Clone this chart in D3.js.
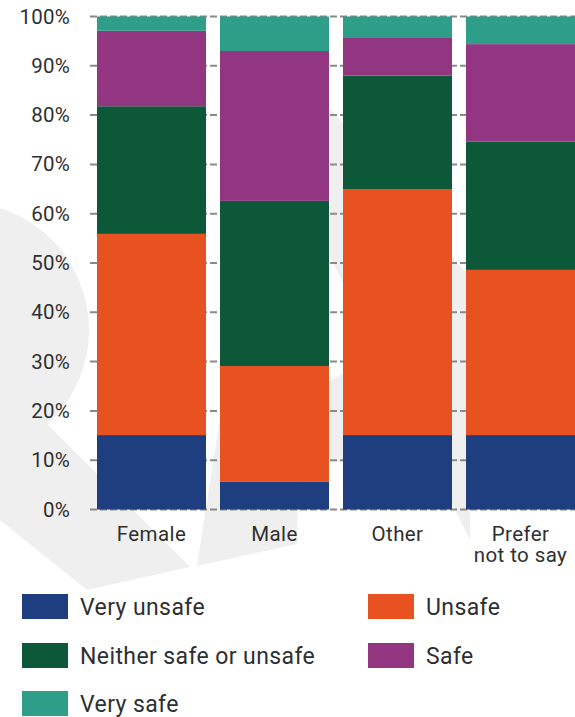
<!DOCTYPE html>
<html>
<head>
<meta charset="utf-8">
<script src="https://cdn.jsdelivr.net/npm/d3@7"></script>
<style>
  html, body { margin: 0; padding: 0; background: #fff; }
  svg { display: block; font-family: Roboto, "Noto Sans", sans-serif; }
</style>
</head>
<body>
<svg id="chart" width="575" height="717"></svg>
<script>
// Perceived safety by gender, share of respondents (%)
const categories = ["Female", "Male", "Other", "Prefer not to say"];
const categoryLabels = [["Female"], ["Male"], ["Other"], ["Prefer", "not to say"]];
const seriesNames = ["Very unsafe", "Unsafe", "Neither safe or unsafe", "Safe", "Very safe"];
const seriesColors = ["#1e3e80", "#e85220", "#0c5838", "#923682", "#2e9e88"];

const veryUnsafe = [15.1, 5.6, 15.1, 15.1];
const unsafe     = [40.8, 23.5, 49.9, 33.5];
const neither    = [25.9, 33.5, 23.0, 26.0];
const safe       = [15.3, 30.4, 7.8, 19.8];
const verySafe   = [2.9, 7.0, 4.2, 5.6];

const yTicks = [0, 10, 20, 30, 40, 50, 60, 70, 80, 90, 100];
const yTickLabels = ["0%", "10%", "20%", "30%", "40%", "50%", "60%", "70%", "80%", "90%", "100%"];

const seriesValues = [veryUnsafe, unsafe, neither, safe, verySafe];
const rows = categories.map((c, i) => {
  const r = { category: c };
  seriesNames.forEach((s, k) => { r[s] = seriesValues[k][i]; });
  return r;
});

const svg = d3.select("#chart");
const W = 575;

const x = d3.scaleBand()
  .domain(categories)
  .range([90, 582])
  .paddingInner(14 / 123)
  .paddingOuter(7 / 123);

const y = d3.scaleLinear().domain([0, 100]).range([509.5, 16.5]);

// Light background emblem
const mark = svg.append("g").attr("fill", "#efefef");
mark.append("circle").attr("cx", -39).attr("cy", 330).attr("r", 128);
const bgShapes = [
  [[-60, 317], [190, 567], [87, 590], [-60, 472]],
  [[197, 566], [297, 544], [300, 380], [226, 380], [218, 430]],
  [[330, 108], [470, 278], [470, 540], [330, 257]],
  [[326, 383], [346, 372], [346, 462], [326, 462]]
];
mark.selectAll("path.bg").data(bgShapes).join("path")
  .attr("class", "bg")
  .attr("d", d => d3.line()(d) + "Z");

// Dashed gridlines
svg.append("g").selectAll("line").data(yTicks).join("line")
  .attr("x1", 90).attr("x2", W)
  .attr("y1", d => y(d)).attr("y2", d => y(d))
  .attr("stroke", "#8a8a8a")
  .attr("stroke-width", 2)
  .attr("stroke-dasharray", "7,3");

// Stacked bars
const stacked = d3.stack().keys(seriesNames)(rows);
svg.append("g").selectAll("g").data(stacked).join("g")
  .attr("fill", (d, i) => seriesColors[i])
  .selectAll("rect").data(d => d).join("rect")
  .attr("x", d => x(d.data.category))
  .attr("width", x.bandwidth())
  .attr("y", d => y(d[1]))
  .attr("height", d => y(d[0]) - y(d[1]));

// Y axis labels
const yAxis = d3.axisLeft(y)
  .tickValues(yTicks)
  .tickFormat((d, i) => yTickLabels[i])
  .tickSize(0)
  .tickPadding(21);
const ya = svg.append("g").attr("transform", "translate(91,0)").call(yAxis);
ya.select(".domain").remove();
ya.selectAll("text")
  .attr("font-family", "Roboto, sans-serif")
  .attr("font-size", 20.5)
  .attr("letter-spacing", 0.2)
  .attr("fill", "#2f2f2f");

// Category labels
const xl = svg.append("g")
  .attr("font-size", 20.5)
  .attr("letter-spacing", 0.4)
  .attr("fill", "#2f2f2f")
  .attr("text-anchor", "middle");
categories.forEach((c, i) => {
  const t = xl.append("text")
    .attr("x", x(c) + x.bandwidth() / 2)
    .attr("y", 540.5);
  categoryLabels[i].forEach((line, j) => {
    t.append("tspan")
      .attr("x", x(c) + x.bandwidth() / 2)
      .attr("dy", j === 0 ? 0 : 21)
      .text(line);
  });
});

// Legend
const legendPos = [[22, 594], [368, 594], [22, 643], [368, 643], [22, 691]];
const lg = svg.append("g").selectAll("g").data(seriesNames).join("g")
  .attr("transform", (d, i) => `translate(${legendPos[i][0]},${legendPos[i][1]})`);
lg.append("rect")
  .attr("width", 46).attr("height", 25)
  .attr("fill", (d, i) => seriesColors[i]);
lg.append("text")
  .attr("x", 58).attr("y", 21)
  .attr("font-size", 23)
  .attr("letter-spacing", 0.4)
  .attr("fill", "#2f2f2f")
  .text(d => d);
</script>
</body>
</html>
